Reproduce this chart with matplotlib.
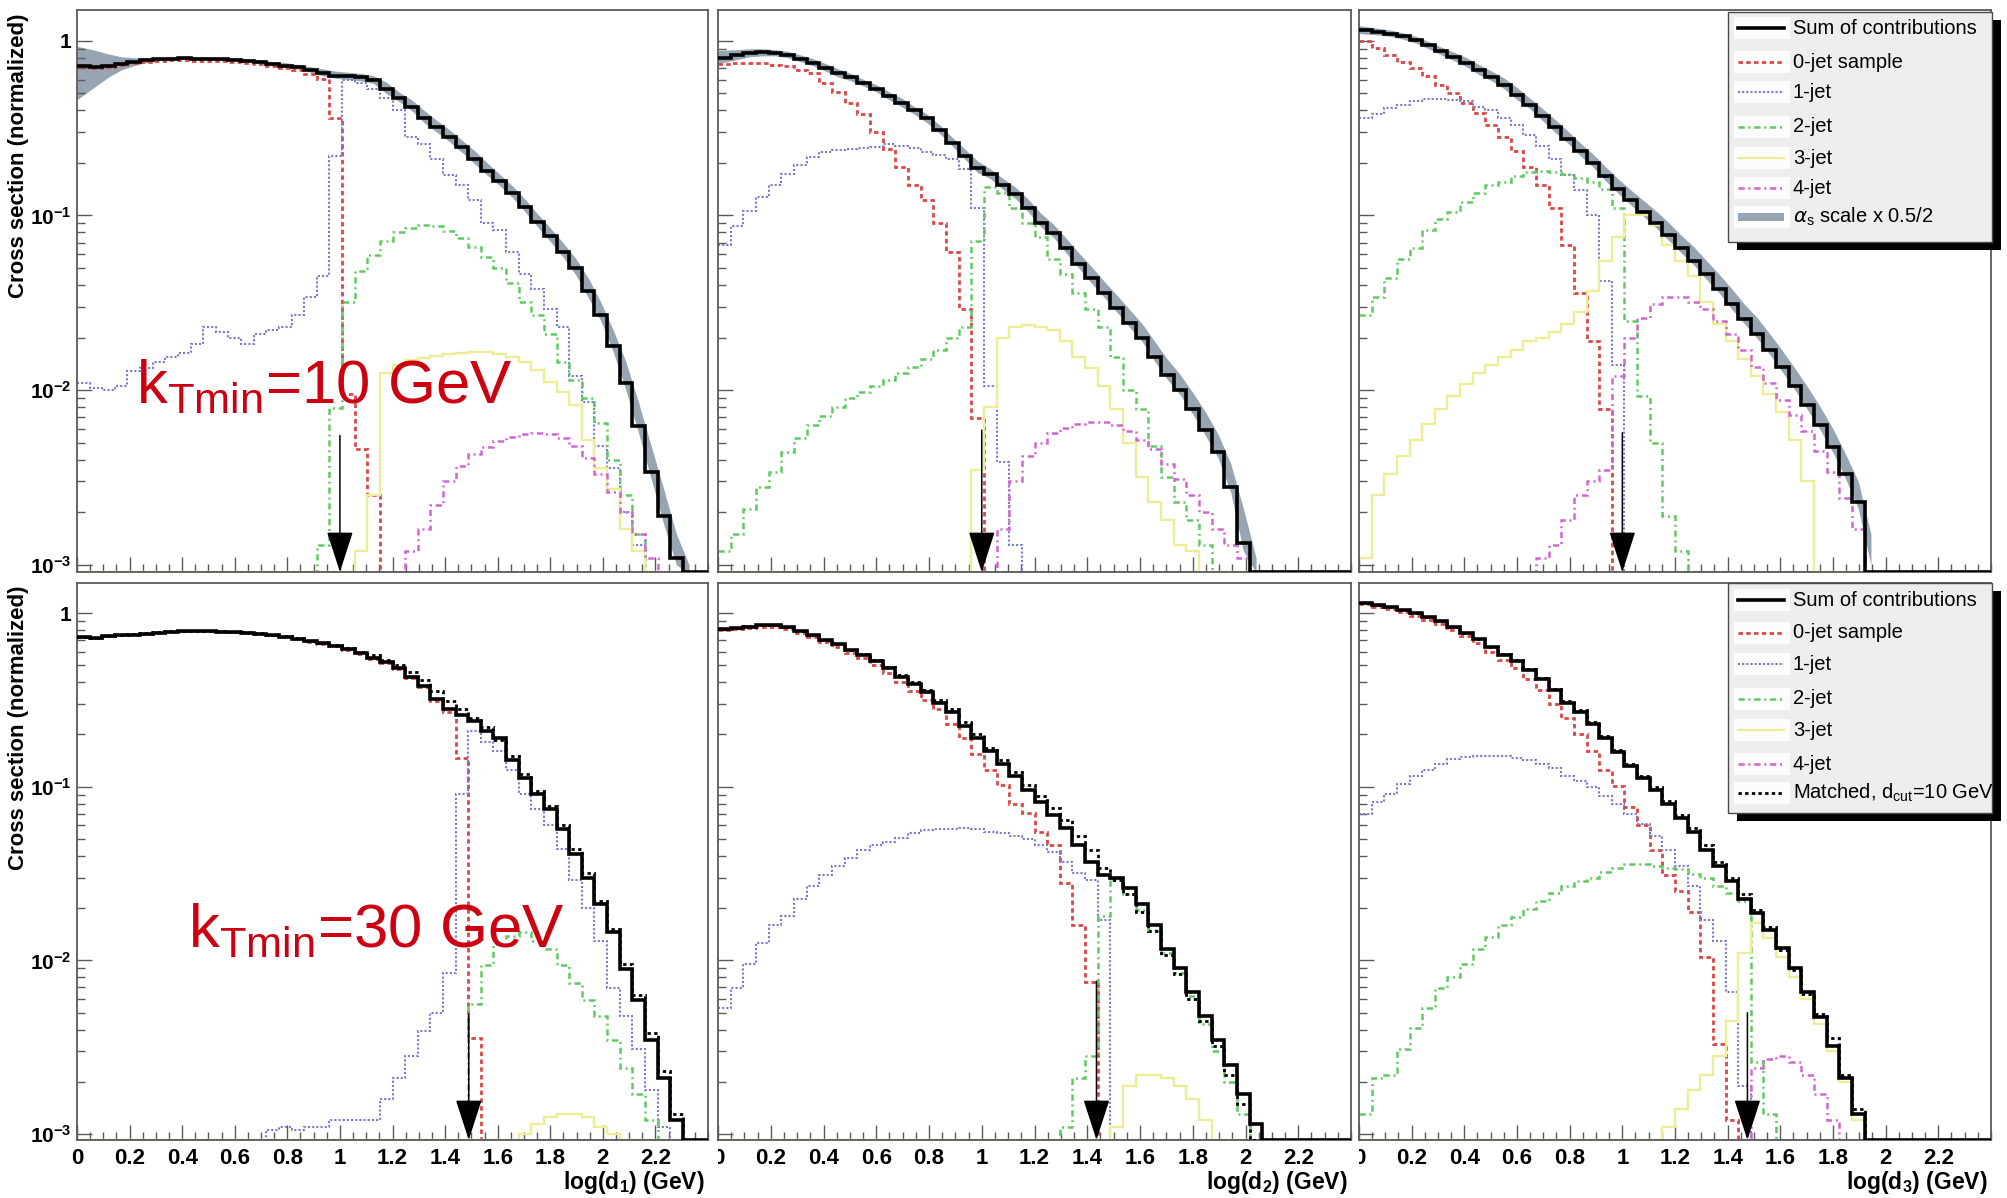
import numpy as np
import matplotlib
matplotlib.use("Agg")
import matplotlib.pyplot as plt
from matplotlib.patches import Rectangle
from matplotlib.lines import Line2D
from matplotlib.ticker import MultipleLocator, LogLocator, NullFormatter
import matplotlib.transforms as mtransforms

plt.rcParams['font.family'] = ['Liberation Sans', 'DejaVu Sans']
plt.rcParams['mathtext.fontset'] = 'dejavusans'

W, H = 2008, 1198
N_BINS = 50
X_MIN, X_MAX = 0.0, 2.4

x_tick_values = [0, 0.2, 0.4, 0.6, 0.8, 1.0, 1.2, 1.4, 1.6, 1.8, 2.0, 2.2]
x_tick_labels = ['0', '0.2', '0.4', '0.6', '0.8', '1', '1.2', '1.4', '1.6', '1.8', '2', '2.2']
y_tick_values = [1e-3, 1e-2, 1e-1, 1.0]
y_tick_labels = [r'$\mathregular{10^{-3}}$', r'$\mathregular{10^{-2}}$', r'$\mathregular{10^{-1}}$', '1']
x_titles = [r'log(d$_{\mathregular{1}}$) (GeV)', r'log(d$_{\mathregular{2}}$) (GeV)', r'log(d$_{\mathregular{3}}$) (GeV)']
y_title = 'Cross section (normalized)'
ktmin_labels = [r'k$_{\mathregular{Tmin}}$=10 GeV', r'k$_{\mathregular{Tmin}}$=30 GeV']
cut_values = [1.0, 1.0, 1.0, 1.49, 1.435, 1.475]

legend_top_labels = ['Sum of contributions', '0-jet sample', '1-jet', '2-jet', '3-jet', '4-jet',
                     r'$\alpha_{\mathregular{s}}$ scale x 0.5/2']
legend_bot_labels = ['Sum of contributions', '0-jet sample', '1-jet', '2-jet', '3-jet', '4-jet',
                     r'Matched, d$_{\mathregular{cut}}$=10 GeV']

# ---------------- top-left (d1, kTmin = 10 GeV) ----------------
tl_sum = [0.72, 0.71, 0.72, 0.74, 0.76, 0.775, 0.785, 0.79, 0.795, 0.79, 0.79, 0.785, 0.78, 0.77, 0.76,
          0.74, 0.72, 0.71, 0.68, 0.65, 0.63, 0.63, 0.62, 0.60, 0.53, 0.47, 0.42, 0.36, 0.32, 0.28, 0.245,
          0.21, 0.18, 0.157, 0.135, 0.112, 0.092, 0.076, 0.062, 0.050, 0.037, 0.027, 0.018, 0.011, 0.0062,
          0.0034, 0.0019, 0.0011]
tl_band_hi = [0.93, 0.88, 0.84, 0.81, 0.80, 0.80, 0.80, 0.81, 0.81, 0.81, 0.81, 0.80, 0.80, 0.79, 0.78,
              0.76, 0.75, 0.73, 0.71, 0.69, 0.67, 0.66, 0.65, 0.63, 0.58, 0.51, 0.46, 0.40, 0.35, 0.31,
              0.27, 0.235, 0.20, 0.172, 0.148, 0.124, 0.102, 0.085, 0.070, 0.057, 0.044, 0.032, 0.022,
              0.0145, 0.0085, 0.0048, 0.0027, 0.0015, 0.0010]
tl_band_lo = [0.46, 0.55, 0.62, 0.68, 0.72, 0.75, 0.77, 0.78, 0.78, 0.78, 0.78, 0.77, 0.77, 0.76, 0.74,
              0.72, 0.70, 0.69, 0.66, 0.63, 0.61, 0.60, 0.59, 0.57, 0.50, 0.45, 0.40, 0.34, 0.30, 0.265,
              0.23, 0.198, 0.17, 0.148, 0.127, 0.105, 0.086, 0.071, 0.058, 0.046, 0.034, 0.025, 0.0165,
              0.010, 0.0057, 0.0031, 0.0017, 0.0010, 0.0009]
tl_jet0 = [0.71, 0.70, 0.71, 0.73, 0.75, 0.76, 0.77, 0.775, 0.78, 0.77, 0.77, 0.765, 0.76, 0.75, 0.74,
           0.72, 0.70, 0.68, 0.645, 0.605, 0.36, 0.0095, 0.0046, 0.0025]
tl_jet0_start = 0
tl_jet1 = [0.011, 0.0103, 0.0100, 0.0105, 0.0128, 0.0134, 0.0145, 0.0155, 0.0163, 0.0184, 0.023, 0.0215,
           0.020, 0.0184, 0.021, 0.022, 0.023, 0.027, 0.034, 0.045, 0.22, 0.60, 0.57, 0.53, 0.47, 0.40,
           0.28, 0.255, 0.21, 0.17, 0.149, 0.122, 0.091, 0.083, 0.062, 0.046, 0.038, 0.029, 0.023, 0.012,
           0.0085, 0.0048, 0.0036, 0.0020, 0.0013]
tl_jet1_start = 0
tl_jet2 = [0.0013, 0.0079, 0.032, 0.048, 0.059, 0.071, 0.080, 0.085, 0.088, 0.087, 0.082, 0.074, 0.066,
           0.058, 0.050, 0.041, 0.032, 0.027, 0.021, 0.0145, 0.0115, 0.009, 0.0065, 0.0040, 0.0025, 0.0015]
tl_jet2_start = 19
tl_jet3 = [0.0012, 0.0025, 0.0125, 0.014, 0.0148, 0.0153, 0.0157, 0.016, 0.0163, 0.0165, 0.0165, 0.016,
           0.0155, 0.0145, 0.013, 0.0112, 0.0098, 0.0082, 0.0052, 0.0036, 0.0027, 0.0016, 0.0012]
tl_jet3_start = 22
tl_jet4 = [0.0012, 0.0016, 0.0022, 0.0030, 0.0037, 0.0043, 0.0047, 0.0051, 0.0054, 0.0056, 0.0057, 0.0056,
           0.0053, 0.0048, 0.0041, 0.0033, 0.0026, 0.0020, 0.0015, 0.0011]
tl_jet4_start = 26

# ---------------- top-middle (d2, kTmin = 10 GeV) ----------------
tm_sum = [0.80, 0.83, 0.85, 0.86, 0.85, 0.83, 0.79, 0.75, 0.70, 0.65, 0.62, 0.57, 0.53, 0.48, 0.44, 0.40,
          0.36, 0.31, 0.26, 0.22, 0.186, 0.172, 0.149, 0.132, 0.111, 0.091, 0.079, 0.065, 0.053, 0.044,
          0.036, 0.0295, 0.0242, 0.020, 0.0155, 0.0122, 0.010, 0.0078, 0.0059, 0.0044, 0.0028, 0.00134]
tm_band_hi = [0.88, 0.89, 0.90, 0.90, 0.89, 0.87, 0.83, 0.79, 0.74, 0.69, 0.65, 0.60, 0.56, 0.51, 0.47,
              0.42, 0.38, 0.33, 0.28, 0.24, 0.205, 0.185, 0.163, 0.145, 0.124, 0.103, 0.089, 0.074, 0.061,
              0.051, 0.042, 0.035, 0.029, 0.024, 0.019, 0.015, 0.0123, 0.0097, 0.0075, 0.0056, 0.0038,
              0.0021, 0.0011]
tm_band_lo = [0.74, 0.78, 0.81, 0.82, 0.82, 0.80, 0.76, 0.72, 0.67, 0.62, 0.59, 0.55, 0.51, 0.46, 0.42,
              0.38, 0.34, 0.295, 0.25, 0.21, 0.176, 0.163, 0.141, 0.125, 0.105, 0.086, 0.075, 0.061, 0.050,
              0.041, 0.034, 0.028, 0.023, 0.019, 0.0146, 0.0115, 0.0094, 0.0073, 0.0055, 0.0041, 0.0026,
              0.0012, 0.0009]
tm_jet0 = [0.74, 0.75, 0.75, 0.75, 0.73, 0.72, 0.68, 0.65, 0.57, 0.51, 0.44, 0.38, 0.30, 0.24, 0.19, 0.149,
           0.122, 0.091, 0.062, 0.029, 0.0069]
tm_jet0_start = 0
tm_jet1 = [0.068, 0.087, 0.106, 0.128, 0.149, 0.172, 0.195, 0.215, 0.23, 0.238, 0.24, 0.242, 0.248, 0.255,
           0.25, 0.242, 0.232, 0.222, 0.21, 0.185, 0.11, 0.0105, 0.0039, 0.0013]
tm_jet1_start = 0
tm_jet2 = [0.0012, 0.0015, 0.0021, 0.0028, 0.0034, 0.0044, 0.0053, 0.0063, 0.0071, 0.0080, 0.0090, 0.0098,
           0.0105, 0.0115, 0.0125, 0.0135, 0.0150, 0.0170, 0.020, 0.023, 0.071, 0.145, 0.135, 0.111, 0.091,
           0.075, 0.056, 0.046, 0.036, 0.029, 0.023, 0.0155, 0.010, 0.0078, 0.0048, 0.0032, 0.0023, 0.0018,
           0.0013]
tm_jet2_start = 0
tm_jet3 = [0.0035, 0.0080, 0.020, 0.023, 0.0235, 0.023, 0.022, 0.019, 0.0155, 0.0134, 0.0105, 0.0078,
           0.0050, 0.0032, 0.0023, 0.0018, 0.0013, 0.0012]
tm_jet3_start = 20
tm_jet4 = [0.0016, 0.0030, 0.0042, 0.0050, 0.0057, 0.0061, 0.0064, 0.0066, 0.0066, 0.0063, 0.0058, 0.0052,
           0.0046, 0.0038, 0.0031, 0.0025, 0.0020, 0.0016, 0.0013, 0.0011]
tm_jet4_start = 22

# ---------------- top-right (d3, kTmin = 10 GeV) ----------------
tr_sum = [1.16, 1.125, 1.10, 1.06, 1.01, 0.94, 0.87, 0.81, 0.75, 0.68, 0.62, 0.56, 0.49, 0.43, 0.37, 0.32,
          0.275, 0.235, 0.20, 0.168, 0.142, 0.122, 0.105, 0.090, 0.077, 0.065, 0.055, 0.046, 0.038, 0.031,
          0.0255, 0.021, 0.017, 0.0135, 0.0106, 0.0082, 0.0063, 0.0047, 0.0033, 0.0023]
tr_band_hi = [1.22, 1.18, 1.15, 1.11, 1.06, 0.99, 0.92, 0.86, 0.80, 0.73, 0.67, 0.61, 0.54, 0.47, 0.41,
              0.355, 0.305, 0.26, 0.225, 0.19, 0.162, 0.14, 0.122, 0.106, 0.091, 0.077, 0.066, 0.055, 0.046,
              0.038, 0.031, 0.026, 0.021, 0.0168, 0.0133, 0.0104, 0.0080, 0.0060, 0.0043, 0.0030, 0.0015]
tr_band_lo = [1.10, 1.08, 1.06, 1.02, 0.97, 0.90, 0.83, 0.77, 0.71, 0.64, 0.59, 0.53, 0.46, 0.41, 0.35,
              0.30, 0.26, 0.22, 0.19, 0.158, 0.134, 0.115, 0.099, 0.085, 0.072, 0.061, 0.052, 0.043, 0.036,
              0.029, 0.024, 0.0198, 0.016, 0.0127, 0.0100, 0.0077, 0.0059, 0.0044, 0.0031, 0.0021, 0.0010]
tr_jet0 = [1.0, 0.915, 0.83, 0.76, 0.70, 0.63, 0.56, 0.50, 0.44, 0.385, 0.33, 0.28, 0.235, 0.19, 0.15, 0.11,
           0.068, 0.036, 0.019, 0.0078]
tr_jet0_start = 0
tr_jet1 = [0.36, 0.38, 0.41, 0.43, 0.45, 0.465, 0.465, 0.46, 0.45, 0.42, 0.40, 0.36, 0.33, 0.29, 0.25, 0.21,
           0.17, 0.14, 0.10, 0.042, 0.014]
tr_jet1_start = 0
tr_jet2 = [0.027, 0.034, 0.044, 0.056, 0.065, 0.083, 0.096, 0.105, 0.12, 0.135, 0.149, 0.156, 0.168, 0.177,
           0.18, 0.177, 0.172, 0.164, 0.156, 0.142, 0.11, 0.025, 0.0092, 0.005, 0.0019, 0.0012]
tr_jet2_start = 0
tr_jet3 = [0.0011, 0.0025, 0.0033, 0.0042, 0.0052, 0.0064, 0.0078, 0.0092, 0.0108, 0.0125, 0.014, 0.0155,
           0.017, 0.019, 0.020, 0.0215, 0.024, 0.028, 0.037, 0.055, 0.075, 0.10, 0.10, 0.088, 0.068, 0.055,
           0.045, 0.032, 0.024, 0.019, 0.015, 0.012, 0.0095, 0.0075, 0.0052, 0.0030]
tr_jet3_start = 0
tr_jet4 = [0.0011, 0.0013, 0.0018, 0.0025, 0.0030, 0.0035, 0.012, 0.020, 0.026, 0.031, 0.034, 0.034, 0.032,
           0.029, 0.025, 0.021, 0.017, 0.0135, 0.011, 0.0088, 0.0072, 0.0058, 0.0045, 0.0034, 0.0024, 0.0016]
tr_jet4_start = 14

# ---------------- bottom-left (d1, kTmin = 30 GeV) ----------------
bl_sum = [0.73, 0.72, 0.74, 0.75, 0.75, 0.76, 0.77, 0.78, 0.79, 0.79, 0.79, 0.78, 0.78, 0.77, 0.76, 0.75,
          0.73, 0.71, 0.69, 0.67, 0.65, 0.62, 0.59, 0.55, 0.52, 0.48, 0.43, 0.38, 0.32, 0.28, 0.26, 0.24,
          0.21, 0.19, 0.142, 0.112, 0.091, 0.074, 0.057, 0.041, 0.030, 0.021, 0.0145, 0.0089, 0.0059,
          0.0035, 0.0021, 0.0012]
bl_match = [0.73, 0.72, 0.74, 0.75, 0.76, 0.77, 0.78, 0.79, 0.79, 0.79, 0.79, 0.785, 0.78, 0.775, 0.765,
            0.75, 0.735, 0.715, 0.695, 0.675, 0.655, 0.63, 0.60, 0.57, 0.535, 0.50, 0.46, 0.41, 0.355, 0.31,
            0.28, 0.25, 0.22, 0.185, 0.15, 0.118, 0.095, 0.077, 0.060, 0.044, 0.032, 0.022, 0.0152, 0.0095,
            0.0063, 0.0038, 0.0023, 0.0013]
bl_jet0 = [0.725, 0.715, 0.735, 0.745, 0.745, 0.755, 0.765, 0.775, 0.785, 0.785, 0.785, 0.775, 0.775, 0.765,
           0.755, 0.745, 0.725, 0.705, 0.685, 0.665, 0.645, 0.615, 0.585, 0.545, 0.515, 0.475, 0.425, 0.375,
           0.31, 0.27, 0.146, 0.0036]
bl_jet0_start = 0
bl_jet1 = [0.00105, 0.0011, 0.00105, 0.0011, 0.0011, 0.0012, 0.0012, 0.0012, 0.0012, 0.0016, 0.0021, 0.0028,
           0.0039, 0.005, 0.0085, 0.091, 0.21, 0.18, 0.16, 0.125, 0.091, 0.074, 0.060, 0.044, 0.029, 0.020,
           0.013, 0.0069, 0.0048, 0.0031, 0.0018, 0.0011]
bl_jet1_start = 15
bl_jet2 = [0.0056, 0.0094, 0.0125, 0.0138, 0.0145, 0.013, 0.0117, 0.0094, 0.0074, 0.0059, 0.0048, 0.0035,
           0.0024, 0.0017, 0.0012]
bl_jet2_start = 31
bl_jet3 = [0.0010, 0.00115, 0.00125, 0.0013, 0.0013, 0.00125, 0.0011, 0.0010]
bl_jet3_start = 35
bl_jet4 = []
bl_jet4_start = 0

# ---------------- bottom-middle (d2, kTmin = 30 GeV) ----------------
bm_sum = [0.81, 0.82, 0.83, 0.85, 0.85, 0.83, 0.79, 0.75, 0.70, 0.66, 0.61, 0.575, 0.53, 0.48, 0.43, 0.39,
          0.35, 0.305, 0.27, 0.225, 0.19, 0.16, 0.135, 0.115, 0.096, 0.082, 0.069, 0.058, 0.046, 0.037,
          0.031, 0.030, 0.026, 0.021, 0.016, 0.0117, 0.0090, 0.0066, 0.0048, 0.0035, 0.0025, 0.0017, 0.00115]
bm_match = [0.81, 0.82, 0.84, 0.85, 0.85, 0.83, 0.79, 0.75, 0.70, 0.66, 0.615, 0.58, 0.535, 0.49, 0.44, 0.40,
            0.36, 0.315, 0.28, 0.235, 0.20, 0.168, 0.142, 0.122, 0.102, 0.088, 0.075, 0.064, 0.052, 0.043,
            0.034, 0.029, 0.024, 0.019, 0.0148, 0.0108, 0.0083, 0.0060, 0.0045, 0.0032, 0.0022, 0.0015]
bm_jet0 = [0.80, 0.81, 0.82, 0.83, 0.83, 0.81, 0.77, 0.73, 0.68, 0.64, 0.59, 0.55, 0.50, 0.45, 0.40, 0.355,
           0.315, 0.28, 0.23, 0.19, 0.155, 0.125, 0.103, 0.080, 0.071, 0.055, 0.046, 0.028, 0.016, 0.0075]
bm_jet0_start = 0
bm_jet1 = [0.0053, 0.0069, 0.0095, 0.0126, 0.016, 0.018, 0.0225, 0.027, 0.031, 0.035, 0.039, 0.043, 0.046,
           0.048, 0.051, 0.054, 0.056, 0.057, 0.057, 0.058, 0.057, 0.055, 0.054, 0.052, 0.050, 0.046, 0.042,
           0.037, 0.032, 0.029, 0.017]
bm_jet1_start = 0
bm_jet2 = [0.0011, 0.0021, 0.0028, 0.018, 0.030, 0.024, 0.0195, 0.015, 0.011, 0.0085, 0.0062, 0.0043,
           0.0030, 0.0020, 0.0013]
bm_jet2_start = 27
bm_jet3 = [0.0011, 0.0019, 0.0022, 0.0022, 0.0021, 0.0019, 0.0016, 0.0012]
bm_jet3_start = 31
bm_jet4 = []
bm_jet4_start = 0

# ---------------- bottom-right (d3, kTmin = 30 GeV) ----------------
br_sum = [1.14, 1.11, 1.08, 1.04, 1.0, 0.95, 0.90, 0.83, 0.77, 0.71, 0.64, 0.575, 0.53, 0.47, 0.42, 0.36,
          0.305, 0.27, 0.23, 0.19, 0.158, 0.131, 0.112, 0.096, 0.080, 0.066, 0.055, 0.0435, 0.035, 0.0286,
          0.0225, 0.0187, 0.015, 0.0118, 0.0090, 0.0066, 0.0047, 0.0032, 0.0021, 0.0013]
br_match = [1.14, 1.11, 1.08, 1.04, 1.0, 0.95, 0.90, 0.83, 0.77, 0.71, 0.64, 0.58, 0.535, 0.475, 0.425,
            0.365, 0.31, 0.275, 0.235, 0.195, 0.163, 0.135, 0.116, 0.10, 0.083, 0.069, 0.058, 0.046, 0.037,
            0.030, 0.024, 0.0195, 0.0155, 0.0115, 0.0088, 0.0064, 0.0049, 0.0036, 0.0022, 0.0014]
br_jet0 = [1.13, 1.09, 1.05, 1.01, 0.96, 0.91, 0.86, 0.80, 0.74, 0.67, 0.60, 0.535, 0.48, 0.42, 0.36, 0.30,
           0.25, 0.20, 0.16, 0.125, 0.101, 0.076, 0.06, 0.0435, 0.031, 0.025, 0.019, 0.0105, 0.0033, 0.0012]
br_jet0_start = 0
br_jet1 = [0.070, 0.082, 0.091, 0.104, 0.115, 0.125, 0.135, 0.145, 0.148, 0.150, 0.150, 0.150, 0.146, 0.143,
           0.135, 0.128, 0.116, 0.108, 0.100, 0.088, 0.080, 0.070, 0.061, 0.052, 0.0435, 0.035, 0.027, 0.017,
           0.013, 0.0066, 0.0019]
br_jet1_start = 0
br_jet2 = [0.0013, 0.0021, 0.0022, 0.0031, 0.0041, 0.0053, 0.0069, 0.008, 0.0095, 0.0117, 0.0137, 0.016,
           0.0178, 0.0197, 0.022, 0.0245, 0.027, 0.0287, 0.030, 0.0325, 0.034, 0.0357, 0.0357, 0.035, 0.034,
           0.0335, 0.0316, 0.030, 0.027, 0.0245, 0.022, 0.0026, 0.0013]
br_jet2_start = 0
br_jet3 = [0.0011, 0.0014, 0.0018, 0.0022, 0.0028, 0.0045, 0.011, 0.0165, 0.0135, 0.0105, 0.0080, 0.0060,
           0.0043, 0.0030, 0.0020, 0.0012]
br_jet3_start = 24
br_jet4 = [0.0024, 0.0027, 0.0028, 0.0026, 0.0022, 0.0017, 0.0012]
br_jet4_start = 31

# ---------------- styling / layout ----------------
C_SUM = 'black'
C_J0 = '#d94848'
C_J1 = '#7a7acc'
C_J2 = '#62c862'
C_J3 = '#eded96'
C_J4 = '#d066d0'
C_BAND = '#97a5b2'
C_RED_TXT = '#cc0011'
FRAME = '#5a5a5a'

STY = {
    'sum': dict(color=C_SUM, lw=2.6, linestyle='-'),
    'j0': dict(color=C_J0, lw=2.0, linestyle=(0, (1.6, 1.2))),
    'j1': dict(color=C_J1, lw=1.5, linestyle=(0, (1.0, 1.0))),
    'j2': dict(color=C_J2, lw=1.8, linestyle=(0, (2.5, 1.5, 0.8, 1.5))),
    'j3': dict(color=C_J3, lw=1.7, linestyle='-'),
    'j4': dict(color=C_J4, lw=1.8, linestyle=(0, (2.5, 1.5, 0.8, 1.5))),
    'match': dict(color='black', lw=2.0, linestyle=(0, (1.2, 1.2))),
}

col_px = [(77, 708), (718, 1351), (1359, 1991)]
row_px = [(10, 572), (583, 1140)]
row_ylim = [(0.91e-3, 1.5), (0.925e-3, 1.49)]
arrow_top = [0.0055, 0.0059, 0.0057, 0.0049, 0.0076, 0.0050]

edges = np.linspace(X_MIN, X_MAX, N_BINS + 1)
centers = 0.5 * (edges[:-1] + edges[1:])


def place(values, start):
    out = np.zeros(N_BINS)
    out[start:start + len(values)] = values
    return out


panels = [
    dict(sum=tl_sum, match=None, band=(tl_band_lo, tl_band_hi),
         jets=[(tl_jet0, tl_jet0_start), (tl_jet1, tl_jet1_start), (tl_jet2, tl_jet2_start),
               (tl_jet3, tl_jet3_start), (tl_jet4, tl_jet4_start)]),
    dict(sum=tm_sum, match=None, band=(tm_band_lo, tm_band_hi),
         jets=[(tm_jet0, tm_jet0_start), (tm_jet1, tm_jet1_start), (tm_jet2, tm_jet2_start),
               (tm_jet3, tm_jet3_start), (tm_jet4, tm_jet4_start)]),
    dict(sum=tr_sum, match=None, band=(tr_band_lo, tr_band_hi),
         jets=[(tr_jet0, tr_jet0_start), (tr_jet1, tr_jet1_start), (tr_jet2, tr_jet2_start),
               (tr_jet3, tr_jet3_start), (tr_jet4, tr_jet4_start)]),
    dict(sum=bl_sum, match=bl_match, band=None,
         jets=[(bl_jet0, bl_jet0_start), (bl_jet1, bl_jet1_start), (bl_jet2, bl_jet2_start),
               (bl_jet3, bl_jet3_start), (bl_jet4, bl_jet4_start)]),
    dict(sum=bm_sum, match=bm_match, band=None,
         jets=[(bm_jet0, bm_jet0_start), (bm_jet1, bm_jet1_start), (bm_jet2, bm_jet2_start),
               (bm_jet3, bm_jet3_start), (bm_jet4, bm_jet4_start)]),
    dict(sum=br_sum, match=br_match, band=None,
         jets=[(br_jet0, br_jet0_start), (br_jet1, br_jet1_start), (br_jet2, br_jet2_start),
               (br_jet3, br_jet3_start), (br_jet4, br_jet4_start)]),
]

fig = plt.figure(figsize=(W / 100, H / 100), dpi=100)
fig.patch.set_facecolor('white')


def draw_steps(ax, vals, floor, sty, z):
    v = np.where(vals > 0, vals, floor)
    ax.stairs(v, edges, baseline=None, zorder=z, **sty)


for k, p in enumerate(panels):
    r, c = divmod(k, 3)
    l, rr = col_px[c]
    t, b = row_px[r]
    ax = fig.add_axes([l / W, 1 - b / H, (rr - l) / W, (b - t) / H])
    ymin, ymax = row_ylim[r]
    ax.set_yscale('log')
    ax.set_xlim(X_MIN, X_MAX)
    ax.set_ylim(ymin, ymax)

    if p['band'] is not None:
        lo, hi = p['band']
        xb = centers[:len(lo)].copy()
        xb[0] = edges[0]
        ax.fill_between(xb, lo, hi, color=C_BAND, lw=0, zorder=1)

    order = [3, 4, 2, 1, 0]
    for j in order:
        vals, start = p['jets'][j]
        draw_steps(ax, place(vals, start), ymin, STY['j%d' % j], 2 + 0.1 * j)
    draw_steps(ax, place(p['sum'], 0), ymin, STY['sum'], 4)
    if p['match'] is not None:
        draw_steps(ax, place(p['match'], 0), ymin, STY['match'], 5)

    ax.annotate('', xy=(cut_values[k], ymin), xytext=(cut_values[k], arrow_top[k]),
                arrowprops=dict(arrowstyle='-|>,head_length=1.3,head_width=0.42', color='black',
                                lw=1.1, shrinkA=0, shrinkB=0, mutation_scale=20),
                annotation_clip=False, zorder=8)

    for s in ax.spines.values():
        s.set_color(FRAME)
        s.set_linewidth(1.3)

    if r == 1:
        ax.set_xticks(x_tick_values, x_tick_labels, fontsize=16, fontweight='bold')
        if c > 0:
            lab = ax.xaxis.get_major_ticks()[0].label1
            lab.set_clip_on(True)
            lab.set_clip_box(mtransforms.TransformedBbox(
                mtransforms.Bbox([[0.0, -1.0], [1.0, 0.5]]), ax.transAxes))
    else:
        ax.set_xticks(x_tick_values, [''] * len(x_tick_values))
    ax.xaxis.set_minor_locator(MultipleLocator(0.05))

    if c == 0:
        ax.set_yticks(y_tick_values, y_tick_labels, fontsize=15, fontweight='bold')
    else:
        ax.set_yticks(y_tick_values, [''] * len(y_tick_values))
    ax.yaxis.set_minor_locator(LogLocator(base=10, subs=np.arange(2, 10), numticks=20))
    ax.yaxis.set_minor_formatter(NullFormatter())

    ax.tick_params(which='major', direction='in', length=11, width=1.0, color=FRAME,
                   top=False, right=False)
    ax.tick_params(axis='x', which='major', pad=6)
    ax.tick_params(axis='y', which='major', pad=4)
    ax.tick_params(which='minor', direction='in', length=5.5, width=1.0, color=FRAME,
                   top=False, right=False)

# axis titles
for r in range(2):
    fig.text(19 / W, 1 - (row_px[r][0] + 3) / H, y_title, rotation=90, ha='center', va='top',
             fontsize=16, fontweight='bold')
for c in range(3):
    fig.text((col_px[c][1] - 3) / W, 1 - 1183 / H, x_titles[c], ha='right', va='center',
             fontsize=16.5, fontweight='bold')

# kTmin annotations
fig.text(136 / W, 1 - 404 / H, ktmin_labels[0], fontsize=44.5, color=C_RED_TXT, ha='left', va='baseline',
         zorder=9)
fig.text(188 / W, 1 - 948 / H, ktmin_labels[1], fontsize=44.5, color=C_RED_TXT, ha='left', va='baseline',
         zorder=9)


# legends
def draw_legend(box, rows_y, labels, last_style):
    x0, y0, x1, y1 = box
    sh = Rectangle(((x0 + 9) / W, 1 - (y1 + 8) / H), (x1 - x0) / W, (y1 - y0) / H,
                   transform=fig.transFigure, facecolor='black', edgecolor='none', zorder=20)
    bx = Rectangle((x0 / W, 1 - y1 / H), (x1 - x0) / W, (y1 - y0) / H,
                   transform=fig.transFigure, facecolor='#eeeeee', edgecolor='#4a4a4a', lw=1.0, zorder=21)
    fig.add_artist(sh)
    fig.add_artist(bx)
    styles = ['sum', 'j0', 'j1', 'j2', 'j3', 'j4', last_style]
    for lab, yc, st in zip(labels, rows_y, styles):
        fig.add_artist(Rectangle(((x0 + 6) / W, 1 - (yc + 11) / H), 56 / W, 22 / H,
                                 transform=fig.transFigure, facecolor='white', edgecolor='none',
                                 alpha=0.85, zorder=22))
        if st == 'band':
            fig.add_artist(Rectangle(((x0 + 10) / W, 1 - (yc + 4) / H), 46 / W, 8 / H,
                                     transform=fig.transFigure, facecolor=C_BAND, edgecolor='none',
                                     zorder=23))
        else:
            s = STY[st]
            fig.add_artist(Line2D([(x0 + 10) / W, (x0 + 56) / W], [1 - yc / H, 1 - yc / H],
                                  transform=fig.transFigure, color=s['color'], lw=s['lw'],
                                  linestyle=s['linestyle'], zorder=23))
        txt = fig.text((x0 + 65) / W, 1 - yc / H, lab, ha='left', va='center', fontsize=14.5, zorder=24)
        txt.set_clip_path(bx)


draw_legend((1728, 12, 1992, 242), [28, 62, 92, 127, 158, 188, 217], legend_top_labels, 'band')
draw_legend((1728, 583, 1992, 813), [600, 633, 664, 699, 730, 764, 793], legend_bot_labels, 'match')

fig.savefig('out.png', dpi=100)
